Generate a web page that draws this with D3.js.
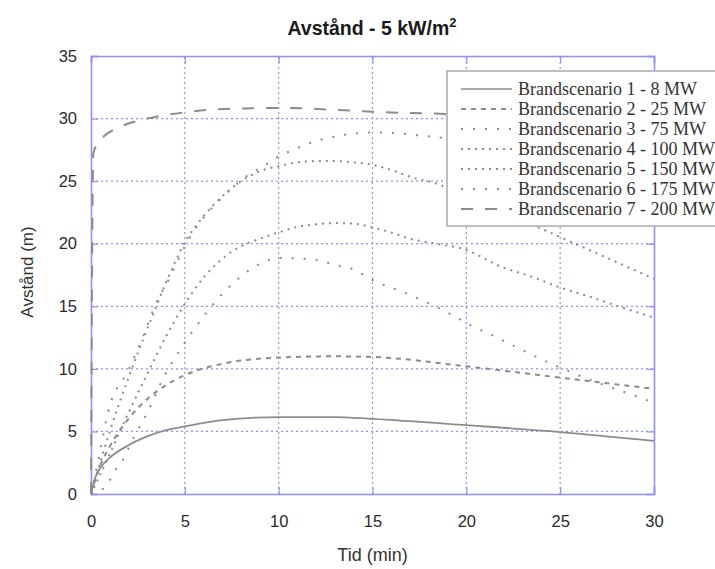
<!DOCTYPE html>
<html>
<head>
<meta charset="utf-8">
<script src="https://cdn.jsdelivr.net/npm/d3@7"></script>
<style>
  body { margin: 0; background: #fff; }
  svg { display: block; }
</style>
</head>
<body>
<div id="chart"></div>
<script>
"use strict";

const width = 715;
const height = 569;
const margin = { top: 56, right: 61, bottom: 75, left: 91 };

const legendLabels = [
    "Brandscenario 1 - 8 MW",
    "Brandscenario 2 - 25 MW",
    "Brandscenario 3 - 75 MW",
    "Brandscenario 4 - 100 MW",
    "Brandscenario 5 - 150 MW",
    "Brandscenario 6 - 175 MW",
    "Brandscenario 7 - 200 MW",
];
const xTicks = [0, 5, 10, 15, 20, 25, 30];
const yTicks = [0, 5, 10, 15, 20, 25, 30, 35];

// [time (min), distance (m)]
const scenario1 = [[0, 0], [0.25, 1.4], [0.5, 2.1], [1, 2.9], [2, 3.9], [3, 4.6], [4, 5.1], [5, 5.4], [7, 5.9], [10, 6.15], [13, 6.15], [15, 6.0], [20, 5.5], [25, 4.95], [30, 4.25]];
const scenario2 = [[0, 0], [0.5, 2.3], [1, 3.8], [2, 6.0], [3, 7.6], [4, 8.7], [5, 9.5], [7, 10.4], [10, 10.9], [13, 11.0], [15, 10.95], [20, 10.2], [25, 9.3], [30, 8.4]];
const scenario3 = [[0, 0], [0.85, 0.7], [1.2, 1.7], [1.65, 2.6], [2.3, 4.6], [3, 6.5], [3.9, 9.4], [5, 12.1], [6, 14.2], [7, 16.0], [8, 17.4], [9, 18.4], [10, 18.85], [11.3, 18.8], [12.1, 18.7], [13, 18.3], [13.9, 18.0], [15, 17.1], [17, 15.9], [19, 14.5], [20.2, 13.5], [21.5, 12.6], [22.7, 11.7], [24.1, 10.7], [25, 10.1], [27, 8.9], [28.5, 8.1], [30, 7.3]];
const scenario4 = [[0, 0], [1, 3.2], [2, 6.5], [3, 9.6], [4, 12.6], [5, 15.2], [6, 17.3], [7, 18.8], [8, 19.8], [9, 20.4], [10, 20.9], [11, 21.35], [12, 21.55], [13, 21.65], [14, 21.6], [15, 21.3], [16, 20.9], [17, 20.4], [18, 20.1], [20, 19.5], [21.8, 18.2], [23.6, 17.3], [25, 16.5], [26.5, 15.8], [28.1, 15.0], [30, 14.1]];
const scenario5 = [[0, 0], [1, 5], [2, 9.3], [3, 13.2], [4, 16.9], [5, 20.1], [6, 22.2], [7, 23.8], [8, 25.0], [9, 25.8], [10, 26.2], [11, 26.5], [12, 26.6], [13, 26.6], [14, 26.5], [15, 26.3], [16, 25.9], [17.1, 25.3], [18.2, 24.9], [20, 23.8], [22, 22.5], [24, 21.2], [27, 19.2], [30, 17.2]];
const scenario6 = [[0, 0], [0.5, 3.5], [0.9, 6.5], [2, 9.9], [2.7, 12.3], [3.4, 15.0], [4.3, 17.6], [5, 19.8], [5.8, 21.7], [7, 23.7], [8.2, 25.3], [9.4, 26.4], [10, 27.0], [10.8, 27.5], [11.4, 27.9], [12.2, 28.3], [12.8, 28.5], [14, 28.8], [15.2, 28.9], [16.5, 28.8], [17.8, 28.6], [18.5, 28.5], [20, 28.1], [25, 26.2], [30, 23.6]];
const scenario7 = [[0, 0], [0.12, 27.2], [0.3, 27.9], [0.7, 28.6], [1.5, 29.3], [3, 30.0], [5, 30.5], [7.7, 30.8], [10.3, 30.85], [13, 30.7], [15.7, 30.5], [18.3, 30.4], [20, 30.3], [25, 29.9], [30, 29.5]];

const scenarios = [scenario1, scenario2, scenario3, scenario4, scenario5, scenario6, scenario7];

// line styles per scenario
const dashes = [null, "5,5", "2,10", "2,5", "2,5", "2,10", "12,12"];
const lineColor = "#8c8c8c";
const gridColor = "#8f8ff5";
const sans = "'Liberation Sans', Arial, sans-serif";

const svg = d3
    .select("#chart")
    .append("svg")
    .attr("width", width)
    .attr("height", height)
    .style("font-family", sans);

const xScale = d3
    .scaleLinear()
    .domain([0, 30])
    .range([margin.left, width - margin.right]);

const yScale = d3
    .scaleLinear()
    .domain([0, 35])
    .range([height - margin.bottom, margin.top]);

// grid
const grid = svg.append("g").attr("class", "grid");
grid.selectAll(".vgrid")
    .data(xTicks.slice(1, -1))
    .enter()
    .append("line")
    .attr("x1", d => xScale(d))
    .attr("x2", d => xScale(d))
    .attr("y1", yScale(0))
    .attr("y2", yScale(35))
    .attr("stroke", gridColor)
    .attr("stroke-width", 1.2)
    .attr("stroke-dasharray", "2,3");
grid.selectAll(".hgrid")
    .data(yTicks.slice(1, -1))
    .enter()
    .append("line")
    .attr("x1", xScale(0))
    .attr("x2", xScale(30))
    .attr("y1", d => yScale(d))
    .attr("y2", d => yScale(d))
    .attr("stroke", gridColor)
    .attr("stroke-width", 1.2)
    .attr("stroke-dasharray", "2,3");

// axes (ticks inward, on all four sides)
const xAxisBottom = d3.axisBottom(xScale).tickValues(xTicks).tickSize(-7).tickPadding(21);
const xAxisTop = d3.axisTop(xScale).tickValues(xTicks).tickSize(-7).tickFormat("");
const yAxisLeft = d3.axisLeft(yScale).tickValues(yTicks).tickSize(-7).tickPadding(14);
const yAxisRight = d3.axisRight(yScale).tickValues(yTicks).tickSize(-7).tickFormat("");

function styleAxis(g) {
    g.select(".domain").attr("stroke", gridColor).attr("stroke-width", 1.6);
    g.selectAll(".tick line").attr("stroke", gridColor).attr("stroke-width", 1.2);
    g.selectAll(".tick text")
        .attr("fill", "#2a2a2a")
        .style("font-size", "16.5px")
        .style("font-family", sans);
}

svg.append("g")
    .attr("transform", `translate(0, ${yScale(0)})`)
    .call(xAxisBottom)
    .call(styleAxis);
svg.append("g")
    .attr("transform", `translate(0, ${yScale(35)})`)
    .call(xAxisTop)
    .call(styleAxis);
svg.append("g")
    .attr("transform", `translate(${xScale(0)}, 0)`)
    .call(yAxisLeft)
    .call(styleAxis);
svg.append("g")
    .attr("transform", `translate(${xScale(30)}, 0)`)
    .call(yAxisRight)
    .call(styleAxis);

// curves
const line = d3
    .line()
    .x(d => xScale(d[0]))
    .y(d => yScale(d[1]))
    .curve(d3.curveMonotoneX);

svg.append("g")
    .selectAll("path")
    .data(scenarios)
    .enter()
    .append("path")
    .attr("d", line)
    .attr("fill", "none")
    .attr("stroke", lineColor)
    .attr("stroke-width", (_, i) => (i === 0 ? 1.8 : 2))
    .attr("stroke-dasharray", (_, i) => dashes[i]);

// legend
const legend = svg.append("g").attr("transform", "translate(447, 71)");
legend.append("rect")
    .attr("width", 290)
    .attr("height", 155)
    .attr("fill", "#fff")
    .attr("stroke", "#b0b0b0")
    .attr("stroke-width", 1.6);

const rows = legend
    .selectAll(".row")
    .data(legendLabels)
    .enter()
    .append("g")
    .attr("transform", (_, i) => `translate(0, ${18 + i * 20})`);

rows.append("line")
    .attr("x1", 14)
    .attr("x2", 65)
    .attr("stroke", lineColor)
    .attr("stroke-width", (_, i) => (i === 0 ? 1.6 : 1.8))
    .attr("stroke-dasharray", (_, i) => dashes[i]);

rows.append("text")
    .attr("x", 71)
    .attr("dy", "0.33em")
    .attr("fill", "#333")
    .style("font-family", "'Liberation Serif', 'Times New Roman', serif")
    .style("font-size", "18px")
    .text(d => d);

// title
const title = svg.append("text")
    .attr("x", 372)
    .attr("y", 35)
    .attr("text-anchor", "middle")
    .attr("fill", "#1a1a1a")
    .style("font-size", "19.5px")
    .style("font-weight", "bold");
title.append("tspan").text("Avstånd - 5 kW/m");
title.append("tspan").attr("dy", -8).style("font-size", "13px").text("2");

// axis labels
svg.append("text")
    .attr("x", xScale(15))
    .attr("y", 561)
    .attr("text-anchor", "middle")
    .attr("fill", "#333")
    .style("font-size", "18px")
    .text("Tid (min)");

svg.append("text")
    .attr("transform", `translate(33, 272) rotate(-90)`)
    .attr("text-anchor", "middle")
    .attr("fill", "#333")
    .style("font-size", "17px")
    .text("Avstånd (m)");
</script>
</body>
</html>
